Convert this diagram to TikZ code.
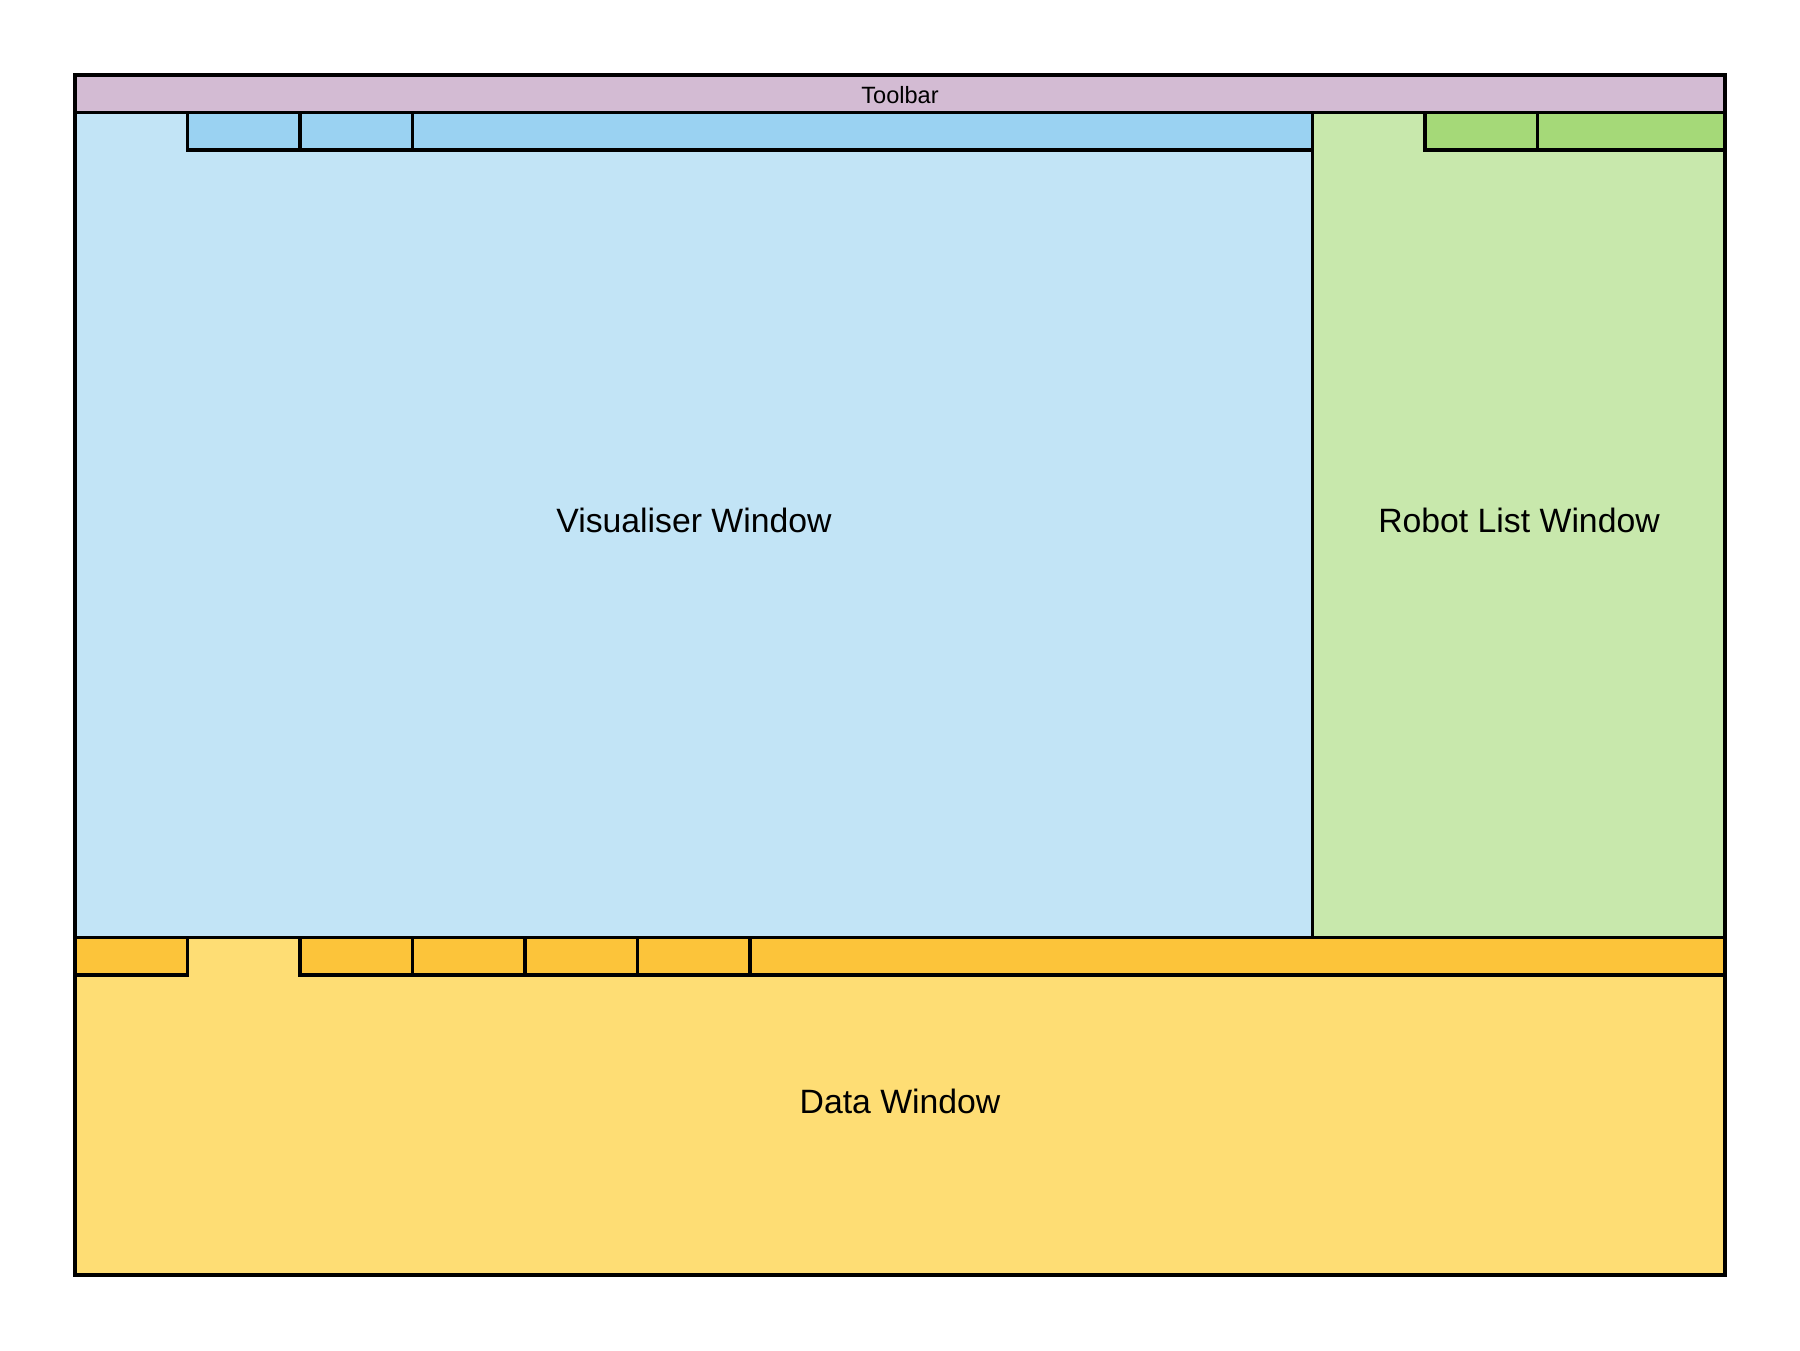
\documentclass[tikz,border=0pt]{standalone}
\usepackage{fontspec}
\setmainfont{Liberation Sans}
\definecolor{toolbarc}{HTML}{D3BBD3}
\definecolor{visc}{HTML}{C2E4F6}
\definecolor{vistab}{HTML}{9AD2F2}
\definecolor{robc}{HTML}{C8E8AC}
\definecolor{robtab}{HTML}{A5D978}
\definecolor{datac}{HTML}{FEDD74}
\definecolor{datatab}{HTML}{FCC43A}
\tikzset{
  panel/.style={line width=1.05pt, draw=black, line join=miter},
  tabbox/.style={line width=1.05pt, draw=black},
  bigtext/.style={font=\fontsize{9.6}{11}\selectfont, inner sep=0pt},
  smalltext/.style={font=\fontsize{6.7}{8}\selectfont, inner sep=0pt}
}
\begin{document}
\begin{tikzpicture}[x=0.01cm,y=-0.01cm]
\fill[white] (0,0) rectangle (1800,1350);
\useasboundingbox (0,0) rectangle (1800,1350);
% regions
\fill[toolbarc] (75,75) rectangle (1725,112.5);
\fill[visc] (75,112.5) rectangle (1312.5,937.5);
\fill[robc] (1312.5,112.5) rectangle (1725,937.5);
\fill[datac] (75,937.5) rectangle (1725,1275);
% blue tabs
\path[tabbox, fill=vistab] (187.5,112.5) rectangle (300,150);
\path[tabbox, fill=vistab] (300,112.5) rectangle (412.5,150);
\path[tabbox, fill=vistab] (412.5,112.5) rectangle (1312.5,150);
% green tabs
\path[tabbox, fill=robtab] (1425,112.5) rectangle (1537.5,150);
\path[tabbox, fill=robtab] (1537.5,112.5) rectangle (1725,150);
% orange tabs
\path[tabbox, fill=datatab] (75,937.5) rectangle (187.5,975);
\path[tabbox, fill=datatab] (300,937.5) rectangle (412.5,975);
\path[tabbox, fill=datatab] (412.5,937.5) rectangle (525,975);
\path[tabbox, fill=datatab] (525,937.5) rectangle (637.5,975);
\path[tabbox, fill=datatab] (637.5,937.5) rectangle (750,975);
\path[tabbox, fill=datatab] (750,937.5) rectangle (1725,975);
% dividing lines
\draw[panel] (75,112.5) -- (1725,112.5);
\draw[panel] (1312.5,112.5) -- (1312.5,937.5);
\draw[panel] (75,937.5) -- (1725,937.5);
\draw[line width=1.15pt] (75,75) rectangle (1725,1275);
% labels
\node[smalltext] (toolbar) at (900,95) {Toolbar};
\node[bigtext] (vis) at (694,520) {Visualiser Window};
\node[bigtext] (robot) at (1519,520) {Robot List Window};
\node[bigtext] (data) at (900,1101) {Data Window};
\end{tikzpicture}
\end{document}
